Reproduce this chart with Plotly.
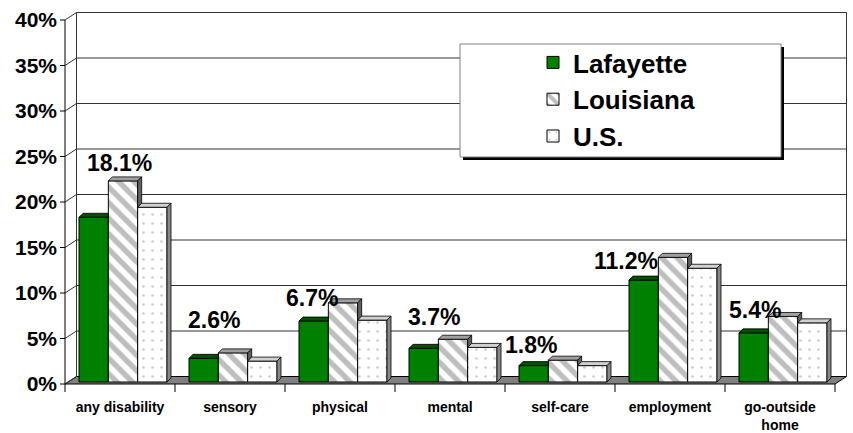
import plotly.graph_objects as go

# ---- data ----
categories = ["any disability", "sensory", "physical", "mental", "self-care",
              "employment", "go-outside<br>home"]
lafayette = [18.1, 2.6, 6.7, 3.7, 1.8, 11.2, 5.4]
louisiana = [22.1, 3.2, 8.7, 4.7, 2.4, 13.7, 7.2]
us = [19.2, 2.3, 6.8, 3.8, 1.8, 12.5, 6.5]
y_ticks = [0, 5, 10, 15, 20, 25, 30, 35, 40]
y_tick_labels = [f"{t}%" for t in y_ticks]

# pixel nudges for the Lafayette value labels (they sit freely above the groups)
label_dx = [26, 10, -2, 10, -3, -18, 1]
label_dy = [54, 38, 23, 31, 21, 19, 23]

# ---- geometry (px per unit on each axis) ----
PX_X = 110.0
PX_Y = 9.1
DX, DY = 11.5 / PX_X, 7.5 / PX_Y        # depth of floor / back wall
BDX, BDY = 4 / PX_X, 4 / PX_Y           # depth of each bar
BAR_W = 0.8 / 3
BAR_SHIFT = 3 / PX_X
BAR_BASE = 2 / PX_Y
FONT = "Liberation Sans, Arial, sans-serif"

W, H = 853, 433
ML, MR, MT, MB = 58, 5, 12, 40
n = len(categories)
x_pos = [i + 0.5 for i in range(n)]
x_range = [-(65 - ML) / PX_X, n + (W - MR - 65 - n * PX_X) / PX_X]
y_range = [-(H - MB - 384) / PX_Y, (384 - MT) / PX_Y]


def px_x(p):
    return (p - ML) / (W - ML - MR)


def px_y(p):
    return (H - MB - p) / (H - MT - MB)


shapes = []


def seg(x0, y0, x1, y1, color="#000000", width=1):
    shapes.append(dict(type="line", xref="x", yref="y", x0=x0, y0=y0, x1=x1, y1=y1,
                       line=dict(color=color, width=width), layer="below"))


# floor
shapes.append(dict(type="path", xref="x", yref="y", layer="below",
                   path=f"M0,0 L{n},0 L{n + DX},{DY} L{DX},{DY} Z",
                   fillcolor="#808080", line=dict(color="#000000", width=1)))
# back wall grid + edges
top = y_ticks[-1]
for t in y_ticks[1:]:
    seg(DX, t + DY, n + DX, t + DY, "#333333")
seg(DX, DY, DX, top + DY, "#333333")
seg(n + DX, DY, n + DX, top + DY, "#333333")
# side wall diagonals, front axis, tick marks
for t in y_ticks:
    seg(0, t, DX, t + DY, "#333333")
    seg(-5 / PX_X, t, 0, t)
seg(0, 0, 0, top)
for i in range(n + 1):
    seg(i, 0, i, -8 / PX_Y)

fig = go.Figure()

series = [
    ("Lafayette", lafayette, dict(color="#008000"), "#005200", "#003a00"),
    ("Louisiana", louisiana,
     dict(color="white", pattern=dict(shape="\\", fgcolor="#7e7e7e", bgcolor="white",
                                      size=11, solidity=0.5)), "#a0a0a0", "#606060"),
    ("U.S.", us,
     dict(color="white", pattern=dict(shape=".", fgcolor="#9a9a9a", bgcolor="white",
                                      size=9, solidity=0.07)), "#d0d0d0", "#888888"),
]
offsets = [(j - 1.5) * BAR_W + BAR_SHIFT for j in range(3)]

for j, (name, vals, marker, _, _) in enumerate(series):
    fig.add_trace(go.Bar(
        x=x_pos, y=vals, base=BAR_BASE, offset=offsets[j], width=BAR_W, name=name,
        marker=dict(**marker, line=dict(color="#000000", width=1)),
        hoverinfo="name+y"
    ))

# 3-D top and side faces of the bars
for j, (name, vals, _, top_col, side_col) in enumerate(series):
    tx, ty, sx, sy = [], [], [], []
    for i in range(n):
        x0 = x_pos[i] + offsets[j]
        x1 = x0 + BAR_W
        vt = BAR_BASE + vals[i]
        vn = BAR_BASE + series[j + 1][1][i] if j < 2 else None
        if vn is not None and vn > vt:
            tx += [x0, x1, x1, x0 + BDX, x0, None]
            ty += [vt, vt, vt + BDY, vt + BDY, vt, None]
        else:
            tx += [x0, x1, x1 + BDX, x0 + BDX, x0, None]
            ty += [vt, vt, vt + BDY, vt + BDY, vt, None]
        if vn is None:
            lo = BAR_BASE
        elif vn < vt:
            lo = vn
        else:
            continue
        sx += [x1, x1, x1 + BDX, x1 + BDX, x1, None]
        sy += [lo, vt, vt + BDY, lo + BDY, lo, None]
    for xs, ys, col in ((tx, ty, top_col), (sx, sy, side_col)):
        fig.add_trace(go.Scatter(x=xs, y=ys, mode="lines", fill="toself", fillcolor=col,
                                 line=dict(color="#000000", width=0.8),
                                 showlegend=False, hoverinfo="skip"))

# Lafayette value labels
annotations = []
for i, v in enumerate(lafayette):
    annotations.append(dict(
        x=x_pos[i] + offsets[0] + BAR_W / 2, y=BAR_BASE + v, xref="x", yref="y",
        text=f"{v}%", showarrow=False, xshift=label_dx[i], yshift=label_dy[i],
        xanchor="center", yanchor="middle",
        font=dict(family=FONT, size=23, color="#000000", weight="bold")))

# legend frame with drop shadow
shapes.append(dict(type="rect", xref="paper", yref="paper", layer="above",
                   x0=px_x(463), x1=px_x(784), y0=px_y(160), y1=px_y(47),
                   fillcolor="#000000", line=dict(width=0)))
shapes.append(dict(type="rect", xref="paper", yref="paper", layer="above",
                   x0=px_x(460), x1=px_x(781), y0=px_y(157), y1=px_y(44),
                   fillcolor="#ffffff", line=dict(color="#808080", width=1)))

fig.update_layout(
    width=W, height=H,
    margin=dict(l=ML, r=MR, t=MT, b=MB),
    paper_bgcolor="white", plot_bgcolor="white",
    font=dict(family=FONT, color="#000000"),
    shapes=shapes, annotations=annotations,
    showlegend=True,
    legend=dict(x=px_x(533), y=px_y(39), xanchor="left", yanchor="top",
                bgcolor="rgba(0,0,0,0)", borderwidth=0, tracegroupgap=0,
                font=dict(family=FONT, size=26, weight="bold")),
    xaxis=dict(range=x_range, tickvals=x_pos, ticktext=categories, ticks="",
               showgrid=False, zeroline=False, showline=False, ticklabelstandoff=4,
               automargin=False,
               tickfont=dict(family=FONT, size=14, weight="bold")),
    yaxis=dict(range=y_range, tickvals=y_ticks, ticktext=y_tick_labels, ticks="",
               showgrid=False, zeroline=False, showline=False, automargin=False,
               tickfont=dict(family=FONT, size=21, weight="bold")),
)

fig.write_html("out.html", config={"displayModeBar": False},
               post_script="document.body.style.margin='0';")
